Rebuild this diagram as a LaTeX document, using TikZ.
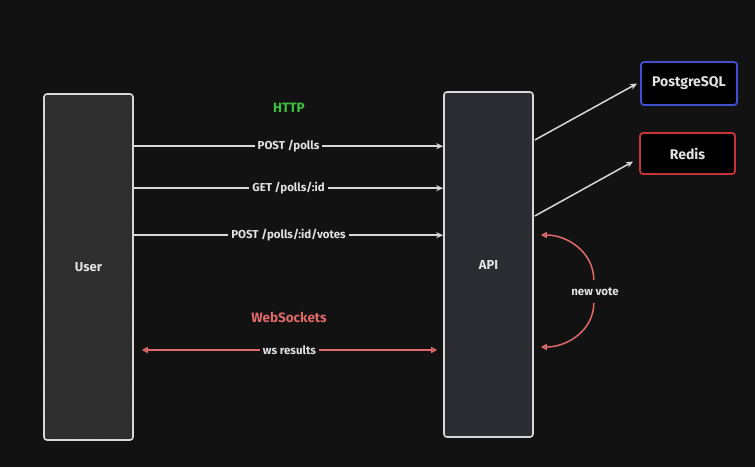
\documentclass[tikz,border=0pt]{standalone}
\usepackage{fontspec}
\setmainfont{Fira Sans}
\usetikzlibrary{arrows.meta,patterns}

\definecolor{bgcol}{HTML}{121212}
\definecolor{boxline}{HTML}{D8D8D8}
\definecolor{userfill}{HTML}{262626}
\definecolor{hatchcol}{HTML}{404040}
\definecolor{apifill}{HTML}{2A2C31}
\definecolor{pgblue}{HTML}{3F4FD0}
\definecolor{redisred}{HTML}{C8343A}
\definecolor{httpgreen}{HTML}{3CC03C}
\definecolor{wsred}{HTML}{E06A6A}
\definecolor{txtcol}{HTML}{E2E2E2}

\tikzset{
  box/.style={draw=boxline, line width=1.6pt, rounded corners=3pt, text=txtcol, font=\fontsize{13}{15}\selectfont\bfseries},
  dbbox/.style={line width=1.8pt, rounded corners=3pt, fill=black, text=txtcol, font=\fontsize{14}{16}\selectfont\bfseries},
  head/.style={font=\fontsize{13.5}{16}\selectfont\bfseries},
  http/.style={draw=boxline, line width=1.5pt, -{Stealth[length=7pt,width=6pt]}},
  ws/.style={draw=wsred, line width=1.5pt, {Triangle[open,length=6pt,width=6pt]}-{Triangle[open,length=6pt,width=6pt]}},
  vote/.style={draw=wsred, line width=1.5pt, -{Triangle[open,length=6pt,width=6pt]}},
  lbl/.style={fill=bgcol, text=txtcol, inner xsep=3pt, inner ysep=1pt}
}

\begin{document}
\begin{tikzpicture}[x=1pt, y=-1pt, font=\fontsize{11.5}{14}\selectfont\bfseries]
  \fill[bgcol] (0,0) rectangle (755,467);
  \useasboundingbox (0,0) rectangle (755,467);

  % Boxes
  \node[box, minimum width=89pt, minimum height=346pt,
        preaction={fill=userfill}, pattern=north west lines, pattern color=hatchcol]
        (user) at (88.5,267) {};
  \node[text=txtcol, font=\fontsize{13}{15}\selectfont\bfseries] (userlbl) at (user.center) {User};
  \node[box, fill=apifill, minimum width=89pt, minimum height=345pt] (api) at (488.5,264.5) {API};
  \node[dbbox, draw=pgblue, minimum width=96pt, minimum height=43pt] (pg) at (689,83.5) {PostgreSQL};
  \node[dbbox, draw=redisred, minimum width=95pt, minimum height=41pt] (redis) at (687.5,153.5) {Redis};

  % HTTP requests
  \node[head, text=httpgreen] (httplbl) at (289,108) {HTTP};
  \draw[http] ([yshift=-53pt]user.north east) coordinate (r1) -- (r1 -| api.west) node[midway, lbl] {POST /polls};
  \draw[http] ([yshift=-95pt]user.north east) coordinate (r2) -- (r2 -| api.west) node[midway, lbl] {GET /polls/:id};
  \draw[http] ([yshift=-142pt]user.north east) coordinate (r3) -- (r3 -| api.west) node[midway, lbl] {POST /polls/:id/votes};

  % API to stores
  \draw[http] ([yshift=124.5pt, xshift=1pt]api.east) -- ([xshift=-3pt]pg.west);
  \draw[http] ([yshift=48.5pt, xshift=1pt]api.east) -- ([xshift=-6pt, yshift=-8pt]redis.west);

  % WebSockets
  \node[head, text=wsred] (wslbl) at (289,317) {WebSockets};
  \draw[ws] ([xshift=8pt, yshift=-83pt]user.east) coordinate (w1) -- ([xshift=-6pt]w1 -| api.west) node[midway, lbl] {ws results};

  % new vote loop
  \node[text=txtcol] (votelbl) at (595,292) {new vote};
  \coordinate (v1) at ([xshift=60pt, yshift=-15.5pt]api.east);
  \coordinate (v2) at ([xshift=60pt, yshift=-38.5pt]api.east);
  \draw[vote] (v1) to[out=90, in=0] ([xshift=7pt, yshift=29.5pt]api.east);
  \draw[vote] (v2) to[out=-90, in=0] ([xshift=7pt, yshift=-82.5pt]api.east);
\end{tikzpicture}
\end{document}
